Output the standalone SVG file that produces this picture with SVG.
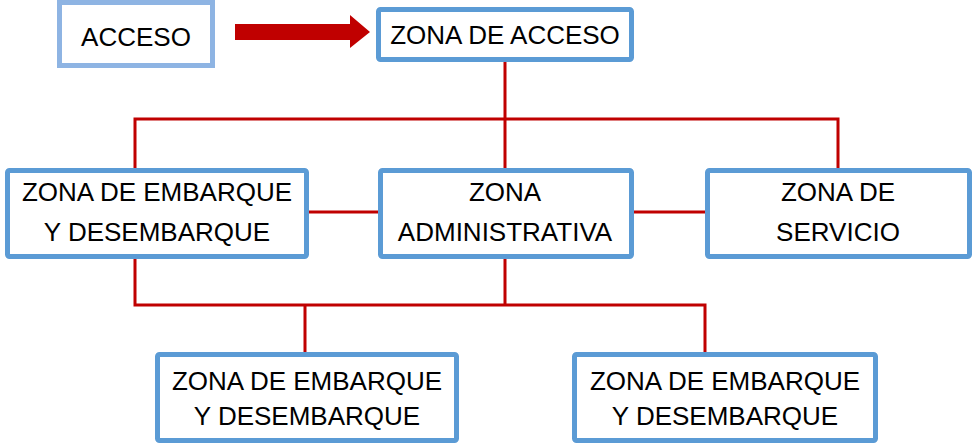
<svg xmlns="http://www.w3.org/2000/svg" width="973" height="448" viewBox="0 0 973 448">
<style>
.box{fill:#fff;stroke:#5B9BD5;stroke-width:5}
.light{fill:#fff;stroke:#8EB4E3;stroke-width:5}
.t{font-family:"Liberation Sans",Arial,sans-serif;font-size:26px;fill:#000;text-anchor:middle}
.c{fill:none;stroke:#C00000;stroke-width:3}
</style>
<rect width="973" height="448" fill="#fff"/>
<g id="connectors">
<path class="c" d="M505 61V170M135 170V119H838V168M308 212H378M633 212H705M135 258V305H705V352M505 258V305M305 305V352"/>
<polygon fill="#C00000" points="235,24 350,24 350,15 370,32 350,48 350,40 235,40"/>
</g>
<g id="acceso"><rect class="light" x="59.5" y="2.5" width="153" height="63"/><text class="t" x="136" y="46">ACCESO</text></g>
<g id="zona-acceso"><rect class="box" x="378.5" y="9.5" width="253" height="50" rx="2"/><text class="t" x="505" y="44">ZONA DE ACCESO</text></g>
<g id="embarque1"><rect class="box" x="7.5" y="170.5" width="299" height="86" rx="2"/><text class="t" x="157" y="201">ZONA DE EMBARQUE</text><text class="t" x="157" y="241">Y DESEMBARQUE</text></g>
<g id="administrativa"><rect class="box" x="380.5" y="170.5" width="251" height="86" rx="2"/><text class="t" x="505" y="201">ZONA</text><text class="t" x="505" y="241">ADMINISTRATIVA</text></g>
<g id="servicio"><rect class="box" x="707.5" y="170.5" width="262" height="86" rx="2"/><text class="t" x="838" y="201">ZONA DE</text><text class="t" x="838" y="241">SERVICIO</text></g>
<g id="embarque2"><rect class="box" x="157.5" y="354.5" width="299" height="86" rx="2"/><text class="t" x="307" y="390">ZONA DE EMBARQUE</text><text class="t" x="307" y="425">Y DESEMBARQUE</text></g>
<g id="embarque3"><rect class="box" x="574.5" y="354.5" width="301" height="86" rx="2"/><text class="t" x="725" y="390">ZONA DE EMBARQUE</text><text class="t" x="725" y="425">Y DESEMBARQUE</text></g>
</svg>
